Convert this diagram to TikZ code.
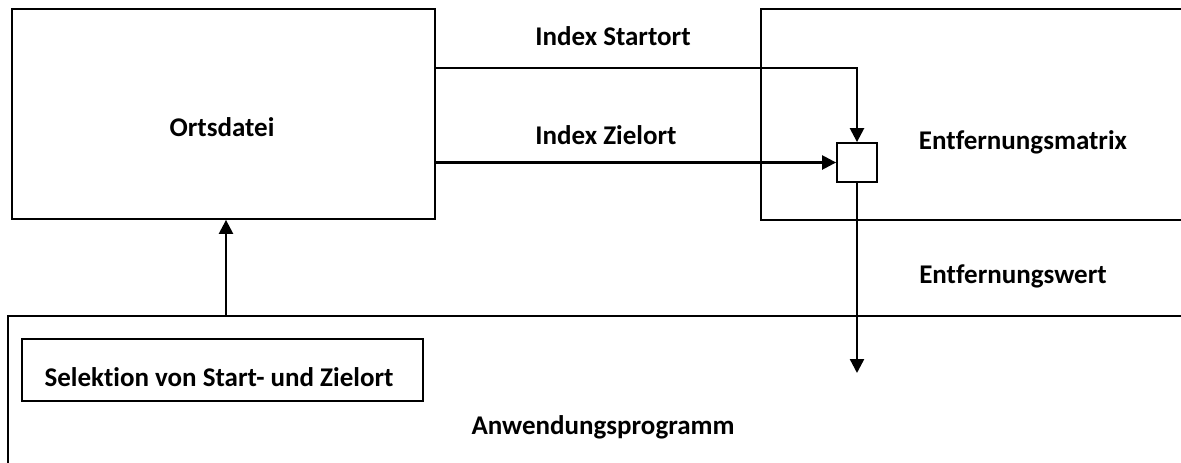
\documentclass[tikz,border=0pt]{standalone}
\usepackage{fontspec}
\setmainfont[Ligatures=NoCommon]{Carlito}
\usetikzlibrary{arrows.meta}
\begin{document}
\begin{tikzpicture}[x=1pt,y=-1pt,
  box/.style={draw,line width=1.8pt,minimum width=#1,inner sep=0pt},
  lbl/.style={font=\bfseries\fontsize{27}{32}\selectfont,inner sep=0pt},
  conn/.style={line width=2.4pt},
  arr/.style={conn,-{Triangle[width=14pt,length=14pt]}}]
\useasboundingbox (0,0) rectangle (1181,463);
\clip (0,0) rectangle (1181,463);
\fill[white] (0,0) rectangle (1181,463);
% boxes
\node[box=423pt,minimum height=210pt] (ort) at (223.5,114) {};
\node[box=460pt,minimum height=211pt] (mat) at (991,114.5) {};
\node[box=1300pt,minimum height=250pt] (anw) at (658,441) {};
\node[box=40pt,minimum height=39pt,fill=white] (sq) at (857,162.5) {};
\node[box=401pt,minimum height=62pt] (selbox) at (222.5,370) {};
% labels
\node[lbl] (sel) at (219,377) {Selektion von Start- und Zielort};
\node[lbl] (lort) at (222,127) {Ortsdatei};
\node[lbl] (lmat) at (1023,142) {Entfernungsmatrix};
\node[lbl] (lanw) at (603,427) {Anwendungsprogramm};
\node[lbl] (lstart) at (613,36) {Index Startort};
\node[lbl] (lziel) at (606,135) {Index Zielort};
\node[lbl] (lwert) at (1013,276) {Entfernungswert};
% connectors
\coordinate (wert) at (857,373);
\draw[arr] (ort.east |- 0,68) -| (sq.north);
\draw[arr] (ort.east |- sq.west) -- (sq.west);
\draw[arr] (sq.south) -- (wert);
\draw[arr] (anw.north -| 226,0) -- (ort.south -| 226,0);
\end{tikzpicture}
\end{document}
